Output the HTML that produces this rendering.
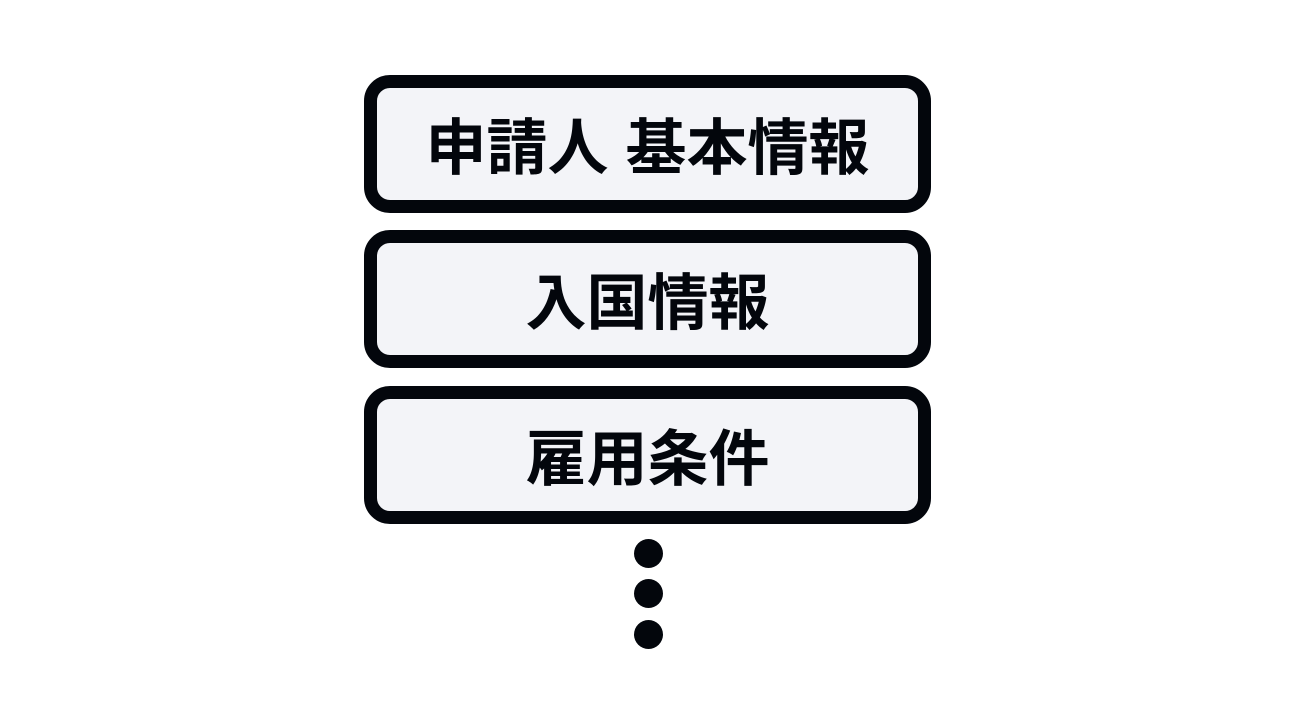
<!DOCTYPE html>
<html><head><meta charset="utf-8"><style>
body{margin:0;width:1296px;height:725px;background:#fff;position:relative;overflow:hidden;font-family:"Liberation Sans","Noto Sans CJK JP",sans-serif;}
.b{position:absolute;left:364px;width:541px;height:112px;border:13px solid #03060c;border-radius:26px;background:#f3f4f8;display:flex;align-items:center;justify-content:center;font-weight:bold;font-size:61px;color:#03060c;line-height:1;}
.b span{position:relative;top:4px;}
.d{position:absolute;left:634px;width:29px;height:29px;border-radius:50%;background:#03060c;}
</style></head><body>
<div class="b" style="top:75px"><span>申請人 基本情報</span></div>
<div class="b" style="top:230px"><span>入国情報</span></div>
<div class="b" style="top:386px"><span>雇用条件</span></div>
<div class="d" style="top:539px"></div>
<div class="d" style="top:579px"></div>
<div class="d" style="top:620px"></div>
</body></html>
